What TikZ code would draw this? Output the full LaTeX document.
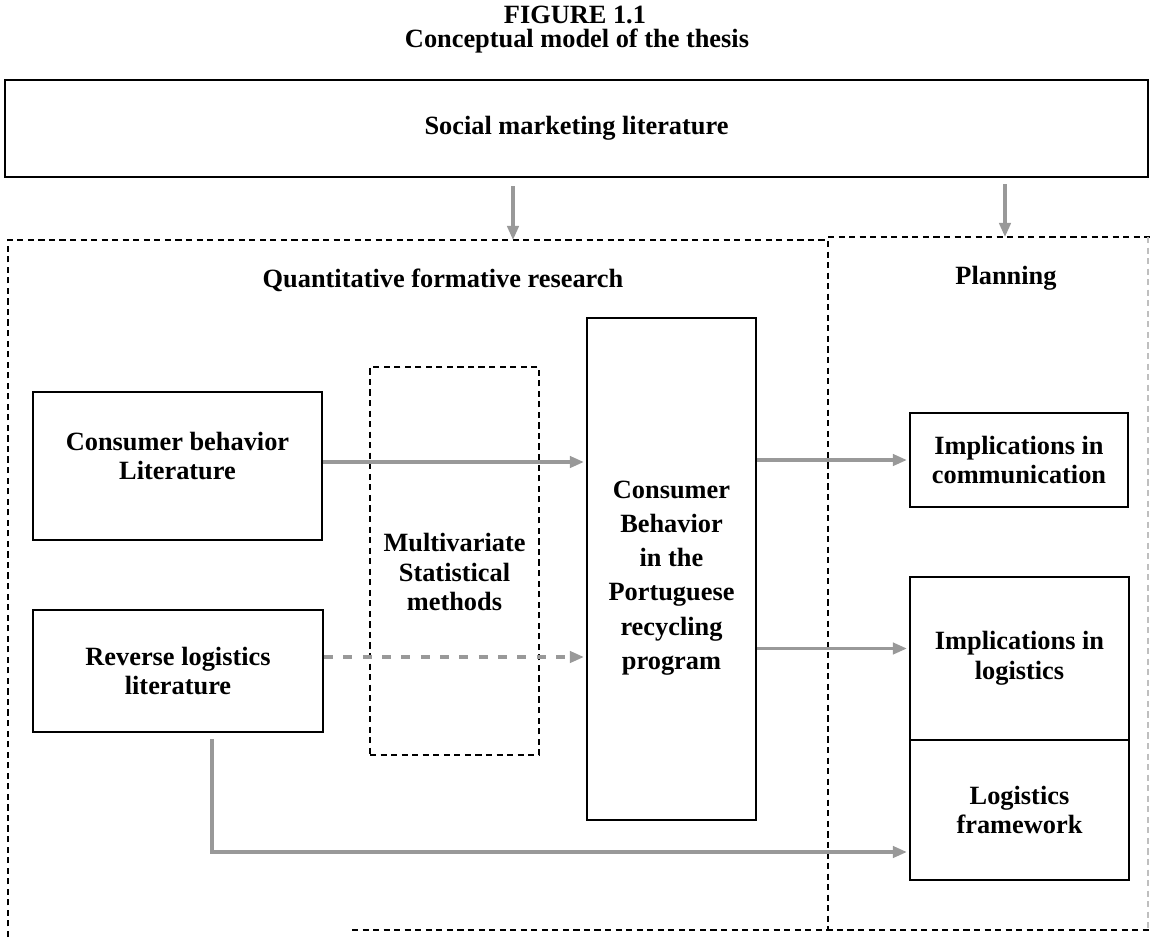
\documentclass[tikz,border=0pt]{standalone}
\usepackage{fontspec}
\setmainfont{Liberation Serif}
\usetikzlibrary{arrows.meta,calc}
\def\upx{0.02cm}
\begin{document}
\begin{tikzpicture}[x=0.02cm,y=-0.02cm,
  txt/.style={font=\fontsize{15}{17}\selectfont\bfseries, align=center, inner sep=0pt},
  box/.style={txt, draw=black, line width=1.3pt},
  dbox/.style={txt, draw=black, line width=1pt, dash pattern=on 3.5pt off 2.5pt},
  region/.style={line width=1pt, dash pattern=on 3.5pt off 2.5pt},
  garrow/.style={draw=black!40, line width=1.8pt, -{Triangle[length=8pt,width=6.5pt]}},
  gdash/.style={garrow, dash pattern=on 5pt off 6pt},
]
\useasboundingbox (0,0) rectangle (1150,937);

% caption
\node[txt] (fig) at (575,15) {FIGURE 1.1};
\node[txt] (cap) at (577,41) {Conceptual model of the thesis};

% top literature band
\node[box, minimum width=1143*\upx, minimum height=97*\upx] (social) at (576.5,128.5) {Social marketing literature};

% dashed regions
\coordinate (qin) at (513,240);
\coordinate (pin) at (1005,237);
\draw[region] (8,937) -- (8,240) -- (828,240) -- (828,930);
\draw[region] (828,237) -- (1150,237);
\draw[region] (352,930) -- (1150,930);
\draw[region, black!25] (1148,237) -- (1148,930);

\node[txt] (quant) at (443,280) {Quantitative formative research};
\node[txt] (plan) at (1006,278) {Planning};

% research blocks
\node[box, minimum width=289*\upx, minimum height=148*\upx] (cb) at (177.5,466) {};
\node[txt] (cbt) at (177.5,456) {Consumer behavior\\Literature};
\node[box, minimum width=290*\upx, minimum height=122*\upx] (rl) at (178,671) {Reverse logistics\\literature};
\node[dbox, minimum width=169*\upx, minimum height=388*\upx] (mv) at (454.5,561) {};
\node[txt] (mvt) at (454.5,572) {Multivariate\\Statistical\\methods};
\node[box, minimum width=169*\upx, minimum height=502*\upx] (prog) at (671.5,569) {};
\node[txt, font=\fontsize{15}{19.5}\selectfont\bfseries] (progt) at (671.5,578)
      {Consumer\\Behavior\\in the\\Portuguese\\recycling\\program};

% planning blocks
\node[box, minimum width=218*\upx, minimum height=94*\upx] (comm) at (1019,460) {Implications in\\communication};
\node[box, minimum width=219*\upx, minimum height=163*\upx] (impl) at (1019.5,658.5) {Implications in\\logistics};
\node[box, minimum width=219*\upx, minimum height=140*\upx] (frame) at (1019.5,810) {Logistics\\framework};

% connectors
\draw[garrow, shorten <=0.16cm] (social.south -| qin) -- (qin);
\draw[garrow, shorten <=0.12cm] (social.south -| pin) -- (pin);
\draw[garrow, shorten >=0.04cm] ($(cb.east)+(0,-4)$) -- ($(cb.east -| prog.west)+(0,-4)$);
\draw[gdash, shorten >=0.04cm] ($(rl.east)+(0,-14)$) -- ($(rl.east -| prog.west)+(0,-14)$);
\draw[garrow, shorten >=0.04cm] (prog.east |- comm.west) -- (comm.west);
\draw[garrow, shorten >=0.04cm] ($(prog.east |- impl.west)+(0,-10)$) -- ($(impl.west)+(0,-10)$);
\draw[garrow, shorten <=0.12cm, shorten >=0.04cm] ($(rl.south)+(34,0)$) |- ($(frame.west)+(0,42)$);
\end{tikzpicture}
\end{document}
